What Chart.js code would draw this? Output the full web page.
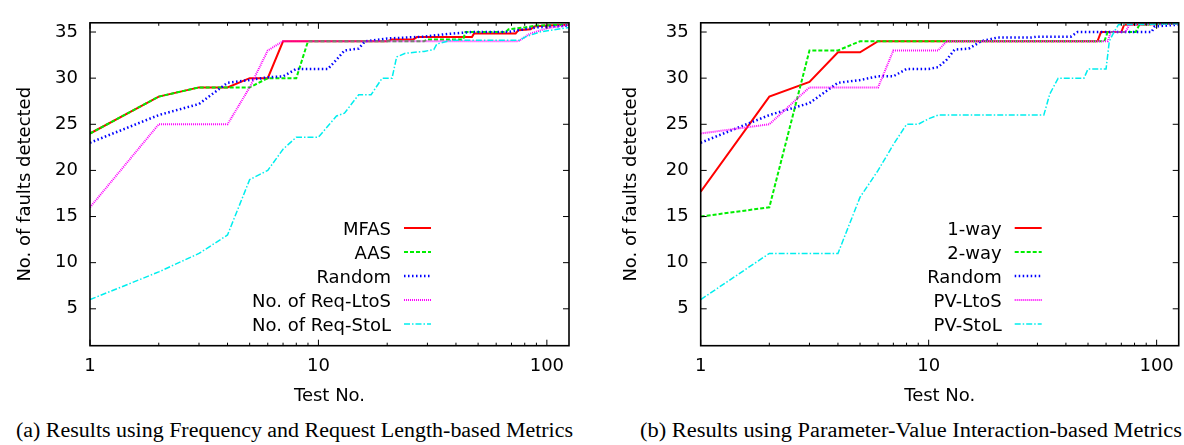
<!DOCTYPE html>
<html>
<head>
<meta charset="utf-8">
<script src="https://cdn.jsdelivr.net/npm/chart.js@4.4.0/dist/chart.umd.min.js"></script>
<style>
  body { margin: 0; background: #fff; width: 1184px; height: 445px; overflow: hidden; position: relative; }
  canvas { position: absolute; top: 0; }
  #cLeft { left: 0; }
  #cRight { left: 606px; }
  .cap { position: absolute; top: 420px; line-height: 20px; font-family: "Liberation Serif", "Times New Roman", serif;
         font-size: 20.5px; white-space: nowrap; color: #000; transform-origin: 0 0; }
</style>
</head>
<body>
<canvas id="cLeft" width="592" height="410"></canvas>
<canvas id="cRight" width="578" height="410"></canvas>
<div class="cap" id="capA" data-x0="16" data-x1="573">(a) Results using Frequency and Request Length-based Metrics</div>
<div class="cap" id="capB" data-x0="640" data-x1="1182">(b) Results using Parameter-Value Interaction-based Metrics</div>
<script>
// ── data: [test no., faults detected] ─────────
const leftMFAS  = [[1,24],[2,28],[3,29],[4,29],[5,30],[6,30],[7,34],[20,34],[21,34.2],[26,34.2],[27,34.45],[47,34.45],[48,34.85],[73,34.85],[75,35.2],[85,35.3],[88,35.6],[100,35.7],[125,35.8]];
const leftAAS   = [[1,24],[2,28],[3,29],[4,29],[5,29],[6,30],[7,30],[8,30],[9,34],[29,34],[30,34.2],[43,34.2],[44,35],[66,35],[68,35.3],[80,35.5],[90,35.7],[125,35.8]];
const leftRand  = [[1,23],[2,26],[3,27.2],[4,29.5],[5,29.8],[6,30.1],[7,30.2],[8,31],[11,31],[12,32],[13,33],[15,33.2],[16,34],[20,34.3],[29,34.5],[37,34.8],[47,35],[68,35],[75,35.2],[90,35.5],[125,35.7]];
const leftLtoS  = [[1,16],[2,25],[3,25],[4,25],[5,29],[6,33],[7,34],[75,34],[84,34.8],[100,35.4],[125,35.8]];
const leftStoL  = [[1,6],[2,9],[3,11],[4,13],[5,19],[6,20],[7,22.3],[8,23.6],[10,23.6],[12,25.9],[13,26.2],[15,28.2],[17,28.2],[19,30],[21,30],[22,32.3],[24,32.7],[29,32.9],[32,33.1],[33,33.7],[38,34.1],[76,34.1],[81,34.5],[93,35],[125,35.5]];

const right1way = [[1,17.7],[2,28],[3,29.6],[4,32.8],[5,32.8],[6,34],[55,34],[57,35],[70,35],[72,35.8],[125,35.9]];
const right2way = [[1,15],[2,16],[3,33],[4,33],[5,34],[59,34],[61,35],[81,35],[84,35.8],[125,35.9]];
const rightRand = [[1,23],[2,26],[3,27.3],[4,29.5],[5,29.8],[6,30.2],[7,30.2],[8,31],[10,31],[11,31.2],[12,32],[13,33.1],[15,33.2],[17,34],[20,34.4],[28,34.4],[30,34.5],[42,34.5],[45,35],[95,35],[98,35.6],[125,35.8]];
const rightLtoS = [[1,24],[2,25],[3,29],[6,29],[7,33],[11,33],[12,34],[61,34],[63,35],[73,35],[76,35.8],[125,35.9]];
const rightStoL = [[1,6],[2,11],[4,11],[5,17.1],[6,20],[7,22.8],[8,25],[9,25],[10,25.6],[11,26],[32,26],[34,28.3],[37,30],[48,30],[50,31],[60,31],[62,34],[65,35],[68,35.8],[125,35.9]];

const leftLabels  = ['MFAS', 'AAS', 'Random', 'No. of Req-LtoS', 'No. of Req-StoL'];
const rightLabels = ['1-way', '2-way', 'Random', 'PV-LtoS', 'PV-StoL'];

const xTickVals  = [1,2,3,4,5,6,7,8,9,10,20,30,40,50,60,70,80,90,100];
const xLabelVals = [1, 10, 100];
const yTicks     = [5, 10, 15, 20, 25, 30, 35];

// ── styles ─────────
const FONT = { family: '"DejaVu Sans", sans-serif', size: 18 };
const lineStyles = [
  { color: '#ff0000', width: 2,   dash: [] },
  { color: '#00ee00', width: 2,   dash: [4, 2] },
  { color: '#0000ff', width: 2.5, dash: [1.5, 2.5] },
  { color: '#ff00ff', width: 2,   dash: [1, 1] },
  { color: '#00eeee', width: 1.5, dash: [6, 2, 1.5, 2] }
];

const framePlugin = {
  id: 'frame',
  afterDraw(chart) {
    const { ctx, chartArea: a, scales: { x, y } } = chart;
    ctx.save();
    ctx.strokeStyle = '#000';
    ctx.lineWidth = 1;
    ctx.setLineDash([]);
    ctx.beginPath();
    xTickVals.forEach(v => {
      const px = x.getPixelForValue(v);
      const len = xLabelVals.includes(v) ? 6 : 3;
      ctx.moveTo(px, a.bottom); ctx.lineTo(px, a.bottom - len);
      ctx.moveTo(px, a.top); ctx.lineTo(px, a.top + len);
    });
    yTicks.forEach(v => {
      const py = y.getPixelForValue(v);
      ctx.moveTo(a.left, py); ctx.lineTo(a.left + 6, py);
      ctx.moveTo(a.right, py); ctx.lineTo(a.right - 6, py);
    });
    ctx.stroke();
    ctx.lineWidth = 1.6;
    ctx.strokeRect(a.left, a.top, a.right - a.left, a.bottom - a.top);

    // gnuplot-style key
    ctx.font = `${FONT.size}px ${FONT.family}`;
    ctx.fillStyle = '#000';
    ctx.textAlign = 'right';
    chart.data.datasets.forEach((ds, i) => {
      const ly = 228 + i * 24;
      ctx.fillText(ds.label, a.left + 301, ly + 6.5);
      ctx.beginPath();
      ctx.strokeStyle = ds.borderColor;
      ctx.lineWidth = ds.borderWidth;
      ctx.setLineDash(ds.borderDash);
      ctx.moveTo(a.left + 314, ly); ctx.lineTo(a.left + 341, ly);
      ctx.stroke();
    });
    ctx.restore();
  }
};

function makeChart(id, seriesList, labels, yAxisWidth, padRight) {
  return new Chart(document.getElementById(id), {
    type: 'line',
    data: {
      datasets: seriesList.map((pts, i) => ({
        label: labels[i],
        data: pts.map(([x, y]) => ({ x, y })),
        borderColor: lineStyles[i].color,
        borderWidth: lineStyles[i].width,
        borderDash: lineStyles[i].dash,
        pointRadius: 0, tension: 0, fill: false,
        order: seriesList.length - i
      }))
    },
    options: {
      responsive: false, animation: false,
      layout: { padding: { top: 7, right: padRight, left: 0, bottom: 0 } },
      plugins: { legend: { display: false }, tooltip: { enabled: false } },
      scales: {
        x: {
          type: 'logarithmic', min: 1, max: 125,
          grid: { display: false, drawTicks: false }, border: { display: false },
          afterBuildTicks: s => { s.ticks = xTickVals.map(v => ({ value: v })); },
          afterFit: s => { s.height = 64.3; },
          ticks: { autoSkip: false, maxRotation: 0, padding: 10, color: '#000', font: FONT,
                   callback: v => xLabelVals.includes(v) ? String(v) : '' },
          title: { display: true, text: 'Test No.', color: '#000', font: FONT, padding: { top: 0, bottom: 3 } }
        },
        y: {
          min: 1, max: 36,
          grid: { display: false, drawTicks: false }, border: { display: false },
          afterBuildTicks: s => { s.ticks = yTicks.map(v => ({ value: v })); },
          afterFit: s => { s.width = yAxisWidth; },
          ticks: { padding: 12, color: '#000', font: FONT },
          title: { display: true, text: 'No. of faults detected', color: '#000', font: FONT, padding: { top: 15, bottom: 0 } }
        }
      }
    },
    plugins: [framePlugin]
  });
}

makeChart('cLeft', [leftMFAS, leftAAS, leftRand, leftLtoS, leftStoL], leftLabels, 90, 23);
makeChart('cRight', [right1way, right2way, rightRand, rightLtoS, rightStoL], rightLabels, 94.7, 4);

// stretch the captions to the span they take in the figure
document.querySelectorAll('.cap').forEach(el => {
  const x0 = +el.dataset.x0, x1 = +el.dataset.x1;
  const w = el.getBoundingClientRect().width;
  el.style.left = x0 + 'px';
  el.style.transform = `scaleX(${(x1 - x0) / w})`;
});
</script>
</body>
</html>
